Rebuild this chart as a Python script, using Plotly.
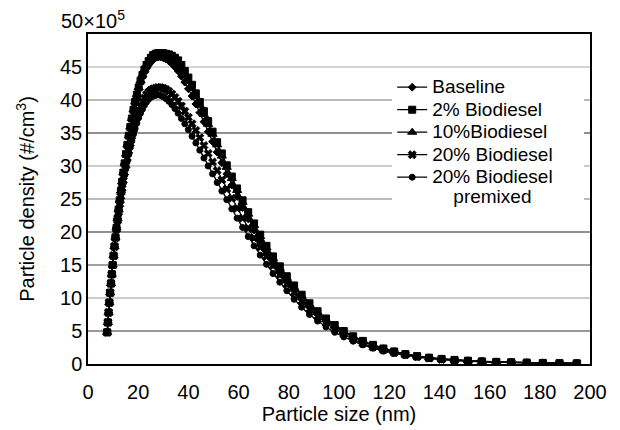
import plotly.graph_objects as go

# Particle size (nm) channel midpoints
size_nm = [7.64, 7.92, 8.21, 8.51, 8.82, 9.15, 9.48, 9.83, 10.19, 10.56,
           10.95, 11.35, 11.77, 12.20, 12.64, 13.11, 13.59, 14.09, 14.60, 15.14,
           15.69, 16.27, 16.86, 17.48, 18.12, 18.78, 19.47, 20.19, 20.93, 21.69,
           22.49, 23.31, 24.16, 25.05, 25.97, 26.92, 27.90, 28.93, 29.99, 31.08,
           32.22, 33.40, 34.63, 35.90, 37.21, 38.57, 39.99, 41.45, 42.97, 44.54,
           46.18, 47.87, 49.62, 51.44, 53.32, 55.28, 57.30, 59.40, 61.58, 63.83,
           66.17, 68.60, 71.11, 73.71, 76.41, 79.21, 82.12, 85.12, 88.24, 91.47,
           94.83, 98.30, 101.90, 105.63, 109.50, 113.52, 117.68, 121.98, 126.45, 131.08,
           135.88, 140.86, 146.02, 151.37, 156.92, 162.66, 168.62, 174.80, 181.21, 187.84,
           194.73]

# Particle density (x10^5 #/cm3)
baseline = [4.8, 6.3, 7.8, 9.3, 10.8, 12.2, 13.6, 15.0, 16.4, 17.8,
            19.2, 20.6, 22.0, 23.4, 24.8, 26.2, 27.6, 29.0, 30.4, 31.8,
            33.2, 34.6, 35.9, 37.2, 38.4, 39.6, 40.7, 41.8, 42.7, 43.5,
            44.2, 44.8, 45.3, 45.8, 46.1, 46.4, 46.5, 46.5, 46.4, 46.2,
            45.9, 45.5, 45.0, 44.4, 43.6, 42.7, 41.7, 40.6, 39.4, 38.1,
            36.7, 35.2, 33.7, 32.1, 30.5, 28.8, 27.1, 25.4, 23.7, 22.0,
            20.3, 18.7, 17.1, 15.5, 14.0, 12.6, 11.2, 9.9, 8.7, 7.6,
            6.5, 5.6, 4.8, 4.0, 3.35, 2.8, 2.3, 1.85, 1.48, 1.18,
            0.93, 0.75, 0.6, 0.48, 0.38, 0.3, 0.24, 0.19, 0.15, 0.12,
            0.1]
bio2 = [4.8, 6.3, 7.8, 9.3, 10.8, 12.2, 13.6, 15.0, 16.4, 17.8,
        19.2, 20.6, 22.0, 23.4, 24.8, 26.2, 27.6, 29.0, 30.4, 31.8,
        33.2, 34.6, 35.9, 37.2, 38.5, 39.7, 40.8, 41.9, 42.9, 43.8,
        44.6, 45.3, 45.9, 46.4, 46.8, 47.0, 47.1, 47.1, 47.1, 47.0,
        46.9, 46.7, 46.4, 46.0, 45.3, 44.4, 43.4, 42.3, 41.0, 39.7,
        38.3, 36.8, 35.2, 33.6, 31.9, 30.1, 28.4, 26.6, 24.8, 23.0,
        21.3, 19.6, 17.9, 16.3, 14.8, 13.3, 11.9, 10.5, 9.2, 8.0,
        6.9, 5.9, 5.0, 4.2, 3.5, 2.9, 2.35, 1.9, 1.5, 1.2,
        0.95, 0.77, 0.62, 0.5, 0.4, 0.32, 0.26, 0.21, 0.17, 0.13,
        0.1]
bio10 = [4.8, 6.3, 7.8, 9.3, 10.8, 12.2, 13.6, 15.0, 16.4, 17.8,
         19.2, 20.6, 22.0, 23.4, 24.8, 26.2, 27.6, 29.0, 30.4, 31.8,
         33.2, 34.6, 35.9, 37.2, 38.5, 39.7, 40.8, 41.9, 42.9, 43.8,
         44.6, 45.3, 45.8, 46.3, 46.7, 46.9, 47.0, 47.0, 46.9, 46.8,
         46.6, 46.3, 45.9, 45.4, 44.7, 43.8, 42.8, 41.7, 40.5, 39.2,
         37.8, 36.3, 34.8, 33.2, 31.5, 29.8, 28.1, 26.3, 24.5, 22.7,
         21.0, 19.3, 17.6, 16.0, 14.5, 13.0, 11.6, 10.3, 9.0, 7.8,
         6.7, 5.75, 4.9, 4.1, 3.4, 2.85, 2.3, 1.87, 1.5, 1.2,
         0.95, 0.76, 0.61, 0.49, 0.39, 0.31, 0.25, 0.2, 0.16, 0.13,
         0.1]
bio20 = [4.8, 6.3, 7.8, 9.3, 10.8, 12.2, 13.6, 15.0, 16.4, 17.8,
         19.1, 20.4, 21.7, 23.0, 24.2, 25.4, 26.6, 27.8, 29.0, 30.1,
         31.2, 32.3, 33.4, 34.5, 35.5, 36.5, 37.4, 38.2, 39.0, 39.7,
         40.3, 40.8, 41.2, 41.5, 41.7, 41.8, 41.9, 41.9, 41.8, 41.6,
         41.3, 40.9, 40.4, 39.8, 39.1, 38.3, 37.4, 36.4, 35.4, 34.3,
         33.1, 31.9, 30.6, 29.3, 27.9, 26.5, 25.1, 23.6, 22.1, 20.6,
         19.1, 17.7, 16.3, 14.9, 13.5, 12.1, 10.8, 9.5, 8.3, 7.2,
         6.2, 5.3, 4.5, 3.75, 3.1, 2.55, 2.1, 1.7, 1.38, 1.1,
         0.88, 0.7, 0.56, 0.45, 0.36, 0.29, 0.23, 0.18, 0.14, 0.11,
         0.09]
bio20_premixed = [4.8, 6.3, 7.8, 9.3, 10.8, 12.2, 13.6, 15.0, 16.4, 17.8,
                  19.1, 20.3, 21.6, 22.8, 24.0, 25.2, 26.4, 27.5, 28.6, 29.7,
                  30.8, 31.8, 32.8, 33.8, 34.8, 35.7, 36.5, 37.3, 38.0, 38.6,
                  39.2, 39.7, 40.1, 40.4, 40.6, 40.7, 40.8, 40.7, 40.5, 40.2,
                  39.8, 39.3, 38.7, 38.0, 37.2, 36.4, 35.5, 34.5, 33.5, 32.4,
                  31.2, 30.0, 28.8, 27.5, 26.2, 24.9, 23.5, 22.1, 20.7, 19.3,
                  17.9, 16.5, 15.1, 13.7, 12.4, 11.1, 9.8, 8.6, 7.5, 6.5,
                  5.6, 4.8, 4.1, 3.45, 2.9, 2.4, 1.95, 1.6, 1.3, 1.04,
                  0.83, 0.66, 0.53, 0.42, 0.34, 0.27, 0.21, 0.17, 0.13, 0.1,
                  0.08]

series_names = ["Baseline", "2% Biodiesel", "10%Biodiesel",
                "20% Biodiesel\u00a0\u00a0\u00a0\u00a0\u00a0",
                "20% Biodiesel<br>\u00a0\u00a0\u00a0\u00a0premixed"]
series_values = [baseline, bio2, bio10, bio20, bio20_premixed]
symbols = ["diamond", "square", "triangle-up", "x", "circle"]
sizes = [6, 7, 8, 7, 6]

y_ticks = [0, 5, 10, 15, 20, 25, 30, 35, 40, 45]
x_ticks = [0, 20, 40, 60, 80, 100, 120, 140, 160, 180, 200]
grid_levels = [5, 10, 15, 20, 25, 30, 35, 40, 45]
grid_colors = ["#333333", "#999999", "#444444", "#222222", "#777777",
               "#999999", "#222222", "#777777", "#aaaaaa"]

FONT = "Liberation Sans, Arial, sans-serif"

fig = go.Figure()
for name, vals, sym, sz in zip(series_names, series_values, symbols, sizes):
    fig.add_trace(go.Scatter(
        x=size_nm, y=vals,
        name='<span style="font-size:19px">' + name + '</span>',
        mode="lines+markers",
        line=dict(color="black", width=1.3),
        marker=dict(symbol=sym, size=sz, color="black",
                    line=dict(color="black", width=1)),
    ))

for lvl, col in zip(grid_levels, grid_colors):
    fig.add_shape(type="line", xref="paper", x0=0, x1=1, yref="y", y0=lvl, y1=lvl,
                  line=dict(color=col, width=1.2), layer="below")

fig.add_annotation(text="50×10<sup>5</sup>", xref="paper", yref="paper",
                   x=-0.058, y=1.0, xanchor="left", yanchor="bottom",
                   showarrow=False, font=dict(size=20, color="black", family=FONT))

# page body has an 8px default margin, so the figure is sized to fit the window
fig.update_layout(
    width=612, height=422,
    margin=dict(l=80, r=30, t=26, b=66),
    paper_bgcolor="white", plot_bgcolor="white",
    font=dict(family=FONT, color="black", size=19),
    showlegend=True,
    legend=dict(x=0.606, y=0.888, xanchor="left", yanchor="top",
                bgcolor="white", borderwidth=0, valign="top",
                font=dict(size=15, family=FONT, color="black"),
                tracegroupgap=0),
    xaxis=dict(range=[0, 200], tickvals=x_ticks, showgrid=False, zeroline=False,
               showline=True, linecolor="black", linewidth=1.5, mirror=True,
               ticks="", tickfont=dict(size=20), automargin=False,
               ticklabelstandoff=9,
               title=dict(text="Particle size (nm)", font=dict(size=20), standoff=4)),
    yaxis=dict(range=[0, 50], tickvals=y_ticks, showgrid=False, zeroline=False,
               showline=True, linecolor="black", linewidth=1.5, mirror=True,
               ticks="", tickfont=dict(size=20), automargin=False,
               title=dict(text="Particle density (#/cm<sup>3</sup>)", font=dict(size=20), standoff=20)),
)

fig.write_html("out.html")
